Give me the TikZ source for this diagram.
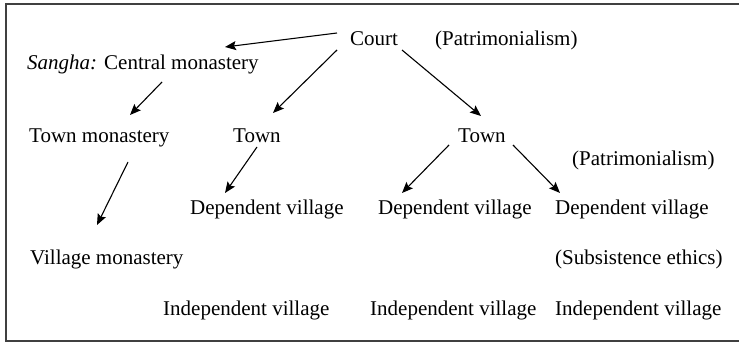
\documentclass[tikz,border=0pt]{standalone}
\usepackage{fontspec}
\setmainfont{Liberation Serif}[ItalicFont={Liberation Serif Italic},BoldFont={Liberation Serif Bold}]
\usetikzlibrary{arrows.meta}
\begin{document}
\begin{tikzpicture}[x=1pt,y=1pt,
  lbl/.style={anchor=base west,inner sep=0pt,font=\fontsize{21}{25}\selectfont},
  arr/.style={line width=1.1pt,-{Stealth[length=11pt,width=9pt,inset=2pt]}},
  frame/.style={line width=1.4pt,draw=black!75}]
\useasboundingbox (0,0) rectangle (739,343);
\draw[frame] (739,339) -- (6,339) -- (6,2) -- (739,2);
\node[lbl] (court) at (350,297) {Court};
\node[lbl] (pat1) at (435,297) {(Patrimonialism)};
\node[lbl] (sangha) at (27,273) {\textit{Sangha:} Central monastery};
\node[lbl] (townmon) at (29,200) {Town monastery};
\node[lbl] (townL) at (233,200) {Town};
\node[lbl] (townR) at (458,200) {Town};
\node[lbl] (pat2) at (572,177) {(Patrimonialism)};
\node[lbl] (dep1) at (190,128) {Dependent village};
\node[lbl] (dep2) at (378,128) {Dependent village};
\node[lbl] (dep3) at (555,128) {Dependent village};
\node[lbl] (villmon) at (30,78) {Village monastery};
\node[lbl] (subs) at (555,78) {(Subsistence ethics)};
\node[lbl] (ind1) at (163,28) {Independent village};
\node[lbl] (ind2) at (370,28) {Independent village};
\node[lbl] (ind3) at (555,28) {Independent village};
\draw[arr] ([shift={(-13,13)}]court.base west) -- ([shift={(198,23)}]sangha.base west);
\draw[arr] ([shift={(-13,-4)}]court.base west) -- ([shift={(40,30)}]townL.base west);
\draw[arr] ([shift={(52,-4)}]court.base west) -- ([shift={(23,27)}]townR.base west);
\draw[arr] ([shift={(135,-12)}]sangha.base west) -- ([shift={(101,28)}]townmon.base west);
\draw[arr] ([shift={(99,-19)}]townmon.base west) -- ([shift={(67,40)}]villmon.base west);
\draw[arr] ([shift={(24,-4)}]townL.base west) -- ([shift={(35,22)}]dep1.base west);
\draw[arr] ([shift={(-9,-2)}]townR.base west) -- ([shift={(24,22)}]dep2.base west);
\draw[arr] ([shift={(55,-2)}]townR.base west) -- ([shift={(5,22)}]dep3.base west);
\end{tikzpicture}
\end{document}
